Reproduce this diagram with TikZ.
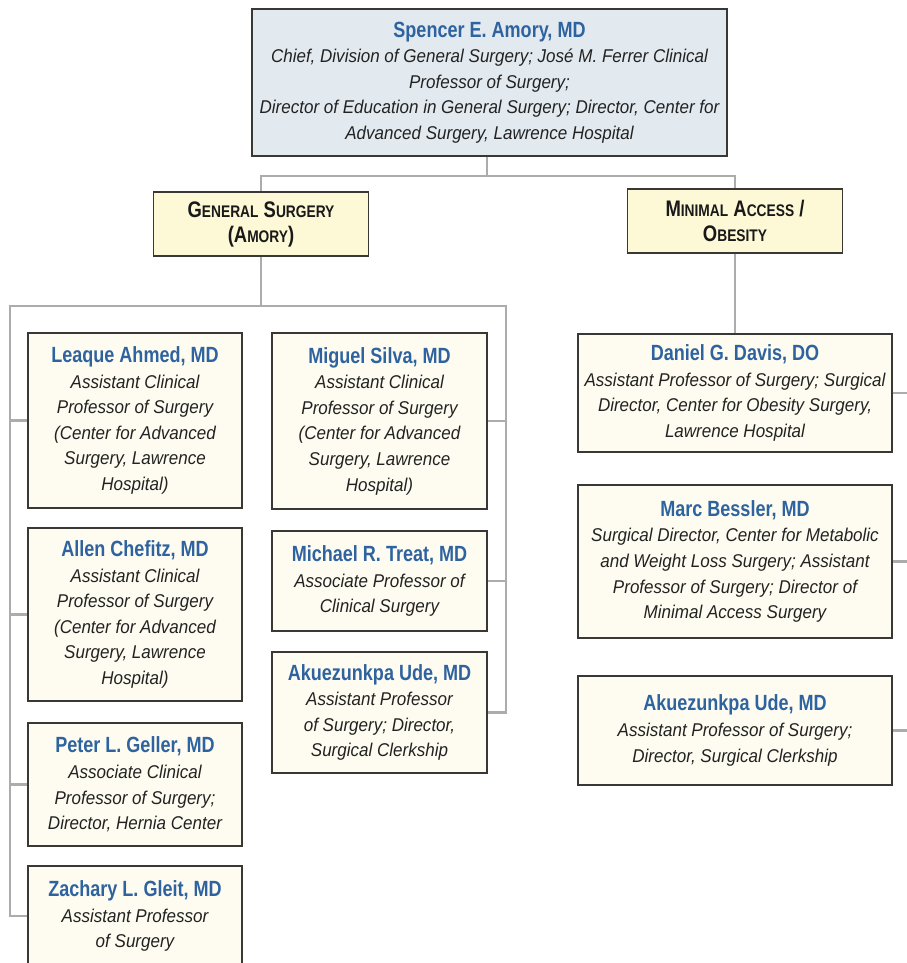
\documentclass[tikz,border=0pt]{standalone}
\usepackage{fontspec}
\setmainfont{Liberation Sans}
\newfontfamily\namefont{Liberation Sans Bold}[FakeStretch=0.82]
\newfontfamily\descfont{Liberation Sans Italic}[FakeStretch=0.92]
\definecolor{nameblue}{RGB}{46,99,160}
\definecolor{descc}{RGB}{34,34,34}
\definecolor{boxc}{RGB}{58,56,52}
\definecolor{connc}{RGB}{172,172,172}
\definecolor{topfill}{RGB}{226,234,240}
\definecolor{headfill}{RGB}{253,248,214}
\definecolor{pfill}{RGB}{254,252,240}
\newcommand{\nm}[1]{{\namefont\color{nameblue}\fontsize{22}{25.6}\selectfont #1}}
\newcommand{\hsc}[2]{#1{\fontsize{16.8}{20}\selectfont #2}}
\tikzset{
  conn/.style={draw=connc, line width=2.6pt},
  box/.style={draw=boxc, line width=1.4pt, inner sep=0pt, align=center, text=descc,
    font=\descfont\fontsize{18.5}{25.6}\selectfont},
  topbox/.style={box, fill=topfill},
  headbox/.style={box, fill=headfill, text=black!90, minimum width=215pt, minimum height=64pt,
    font=\namefont\fontsize{22.5}{25}\selectfont},
  pbox/.style={box, fill=pfill},
  lbox/.style={pbox, minimum width=214pt},
  mbox/.style={pbox, minimum width=215pt},
  rbox/.style={pbox, minimum width=314pt},
}
\begin{document}
\begin{tikzpicture}[x=1pt,y=-1pt]
\useasboundingbox (0,0) rectangle (906,963);

% top
\node[topbox, minimum width=475pt, minimum height=147pt] (top) at (489.5,82.5)
 {\nm{Spencer E. Amory, MD}\\
  Chief, Division of General Surgery; José M. Ferrer Clinical\\
  Professor of Surgery;\\
  Director of Education in General Surgery; Director, Center for\\
  Advanced Surgery, Lawrence Hospital};

% headers
\node[headbox] (gs) at (261,224) {\hsc{G}{ENERAL} \hsc{S}{URGERY}\\(\hsc{A}{MORY})};
\node[headbox] (ma) at (735,221) {\hsc{M}{INIMAL} \hsc{A}{CCESS} /\\\hsc{O}{BESITY}};

% left column
\node[lbox, minimum height=175pt] (ahmed) at (135,420.5)
 {\nm{Leaque Ahmed, MD}\\Assistant Clinical\\Professor of Surgery\\(Center for Advanced\\Surgery, Lawrence\\Hospital)};
\node[lbox, minimum height=173pt] (chefitz) at (135,614.5)
 {\nm{Allen Chefitz, MD}\\Assistant Clinical\\Professor of Surgery\\(Center for Advanced\\Surgery, Lawrence\\Hospital)};
\node[lbox, minimum height=123pt] (geller) at (135,784.5)
 {\nm{Peter L. Geller, MD}\\Associate Clinical\\Professor of Surgery;\\Director, Hernia Center};
\node[lbox, minimum height=100pt] (gleit) at (135,916)
 {\nm{Zachary L. Gleit, MD}\\Assistant Professor\\of Surgery};

% middle column
\node[mbox, minimum height=176pt] (silva) at (379.5,421)
 {\nm{Miguel Silva, MD}\\Assistant Clinical\\Professor of Surgery\\(Center for Advanced\\Surgery, Lawrence\\Hospital)};
\node[mbox, minimum height=100pt] (treat) at (379.5,581)
 {\nm{Michael R. Treat, MD}\\Associate Professor of\\Clinical Surgery};
\node[mbox, minimum height=121pt] (ude1) at (379.5,712.5)
 {\nm{Akuezunkpa Ude, MD}\\Assistant Professor\\of Surgery; Director,\\Surgical Clerkship};

% right column
\node[rbox, minimum height=118pt] (davis) at (735,393)
 {\nm{Daniel G. Davis, DO}\\Assistant Professor of Surgery; Surgical\\Director, Center for Obesity Surgery,\\Lawrence Hospital};
\node[rbox, minimum height=153pt] (bessler) at (735,561.5)
 {\nm{Marc Bessler, MD}\\Surgical Director, Center for Metabolic\\and Weight Loss Surgery; Assistant\\Professor of Surgery; Director of\\Minimal Access Surgery};
\node[rbox, minimum height=109pt] (ude2) at (735,730.5)
 {\nm{Akuezunkpa Ude, MD}\\Assistant Professor of Surgery;\\Director, Surgical Clerkship};

% connectors
\coordinate (j0) at (487,176);
\coordinate (L) at (10,306);
\coordinate (R) at (506,306);
\coordinate (E) at (915,0);
\draw[conn] (j0 |- top.south) -- (j0);
\draw[conn] (gs.north) -- (gs.north |- j0) -- (ma.north |- j0) -- (ma.north);
\draw[conn] (gs.south) -- (gs.south |- L);
\draw[conn] (gleit.west) -- (L |- gleit.west) -- (L) -- (R) -- (R |- ude1.east) -- (ude1.east);
\draw[conn] (L |- ahmed.west) -- (ahmed.west);
\draw[conn] (L |- chefitz.west) -- (chefitz.west);
\draw[conn] (L |- geller.west) -- (geller.west);
\draw[conn] (R |- silva.east) -- (silva.east);
\draw[conn] (R |- treat.east) -- (treat.east);
\draw[conn] (ma.south) -- (ma.south |- davis.north);
\draw[conn] (davis.east) -- (E |- davis.east);
\draw[conn] (bessler.east) -- (E |- bessler.east);
\draw[conn] (ude2.east) -- (E |- ude2.east);
\end{tikzpicture}
\end{document}
